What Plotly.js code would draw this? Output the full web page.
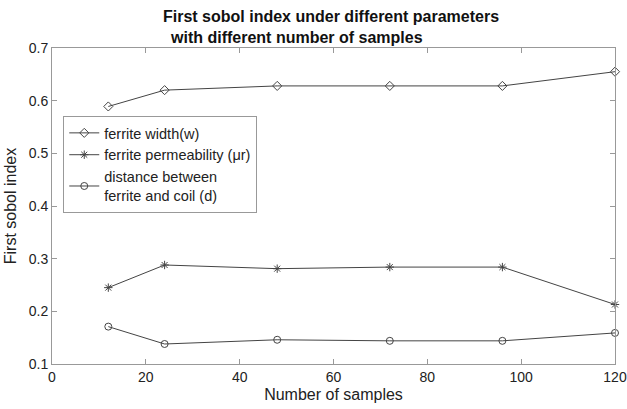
<!DOCTYPE html>
<html><head><meta charset="utf-8">
<script src="https://cdn.plot.ly/plotly-3.0.1.min.js"></script>
<style>html,body{margin:0;padding:0;background:#fff}#chart{width:627px;height:409px}</style>
</head><body><div id="chart"></div>
<script>
const samples = [12, 24, 48, 72, 96, 120];
const ferriteWidth = [0.589, 0.620, 0.628, 0.628, 0.628, 0.655];
const ferritePermeability = [0.245, 0.288, 0.281, 0.284, 0.284, 0.213];
const distanceFerriteCoil = [0.171, 0.138, 0.146, 0.144, 0.144, 0.159];
const seriesNames = ['ferrite width(w)', 'ferrite permeability (\u03bcr)', 'distance between<br>ferrite and coil (d)'];
const titleLines = ['First sobol index under different parameters', 'with different number of samples'];
const xTicks = [0, 20, 40, 60, 80, 100, 120];
const yTicks = [0.1, 0.2, 0.3, 0.4, 0.5, 0.6, 0.7];

const FONT = 'Liberation Sans, Arial, sans-serif';
const lineColor = '#444';
function tr(y, name, sym) {
  return {x: samples, y: y, name: name, type: 'scatter', mode: 'lines+markers',
    line: {color: lineColor, width: 1},
    marker: {symbol: sym, size: 7, color: lineColor, line: {color: lineColor, width: 1}},
    cliponaxis: false};
}
const data = [
  tr(ferriteWidth, seriesNames[0], 'diamond-open'),
  tr(ferritePermeability, seriesNames[1], 'asterisk-open'),
  tr(distanceFerriteCoil, seriesNames[2], 'circle-open')
];
const axisCommon = {showgrid: false, zeroline: false, showline: true, mirror: 'ticks',
  linecolor: '#999', linewidth: 1, ticks: 'inside', ticklen: 5, tickcolor: '#999',
  tickfont: {family: FONT, size: 14, color: '#222'}};
const layout = {
  width: 627, height: 409,
  margin: {l: 52, r: 12, t: 48, b: 45},
  paper_bgcolor: '#fff', plot_bgcolor: '#fff',
  font: {family: FONT, color: '#222'},
  xaxis: Object.assign({}, axisCommon, {range: [0, 120], tickvals: xTicks,
    title: {text: 'Number of samples', standoff: 5, font: {size: 16}}}),
  yaxis: Object.assign({}, axisCommon, {range: [0.1, 0.7], tickvals: yTicks, tickformat: '.1f',
    title: {text: 'First sobol index', standoff: 8, font: {size: 16}}}),
  annotations: [
    {text: '<b>' + titleLines[0] + '</b>', xref: 'paper', yref: 'paper', x: 0.496, y: 1.101,
     xanchor: 'center', yanchor: 'middle', showarrow: false, font: {size: 16, color: '#111', family: FONT}},
    {text: '<b>' + titleLines[1] + '</b>', xref: 'paper', yref: 'paper', x: 0.435, y: 1.032,
     xanchor: 'center', yanchor: 'middle', showarrow: false, font: {size: 16, color: '#111', family: FONT}}
  ],
  showlegend: true,
  legend: {x: 0.02, y: 0.785, xanchor: 'left', yanchor: 'top',
    bgcolor: '#fff', bordercolor: '#999', borderwidth: 1,
    font: {size: 14.5, color: '#222'}, tracegroupgap: 0, itemwidth: 30}
};
Plotly.newPlot('chart', data, layout, {displayModeBar: false, staticPlot: true});
</script></body></html>
